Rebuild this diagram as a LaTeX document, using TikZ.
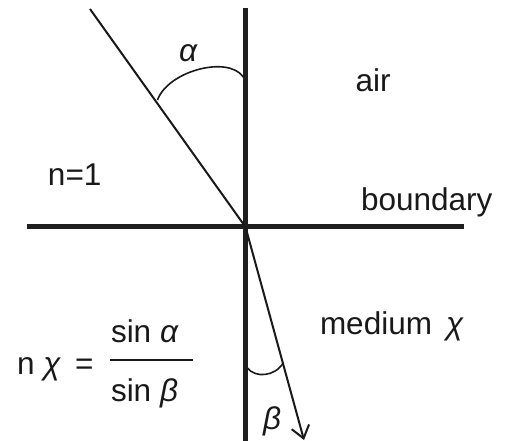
\documentclass[tikz,border=0pt]{standalone}
\usepackage{fontspec}
\setmainfont{Liberation Sans}
\usetikzlibrary{arrows.meta}
\tikzset{
  lbl/.style={inner sep=0pt, outer sep=0pt, font=\fontsize{31.5}{36}\selectfont, text=black!90},
  axisline/.style={line width=4.6pt, draw=black!88},
  rayline/.style={line width=2pt, draw=black!90},
  anglearc/.style={line width=1.6pt, draw=black!90},
}
\begin{document}
\begin{tikzpicture}[x=1pt,y=-1pt]
\useasboundingbox (0,0) rectangle (507,441);
% key points
\coordinate (O) at (245.5,227);
\coordinate (vtop) at (245.5,8);
\coordinate (vbot) at (245.5,441);
\coordinate (hleft) at (27,226.7);
\coordinate (hright) at (464,226.7);
\coordinate (src) at (90,9);
\coordinate (tip) at (304,440);
% axes
\draw[axisline] (vtop) -- (vbot);
\draw[axisline] (hleft) -- (hright);
% rays
\draw[rayline] (src) -- (O);
\draw[rayline, -{Straight Barb[length=12pt,width=18pt,line width=2pt]}] (O) -- (tip);
% angle arcs
\coordinate (a1) at (157.5,100);
\coordinate (a2) at (243.3,77);
\draw[anglearc] (a1) .. controls (168,71) and (228,55) .. (a2);
\coordinate (b1) at (247.5,368);
\coordinate (b2) at (283.5,362.5);
\draw[anglearc] (b1) .. controls (255,378) and (275,377) .. (b2);
% labels
\node[lbl, anchor=base] (alpha) at (188.5,62) {\textit{α}};
\node[lbl, anchor=center] (beta) at (272,421) {\textit{β}};
\node[lbl, anchor=base west] (air) at (355.5,92) {air};
\node[lbl, anchor=base west] (n1) at (48,186) {n=1};
\node[lbl, anchor=base west] (bnd) at (361,211) {boundary};
\node[lbl, anchor=base west] (med) at (320,335) {medium\hspace{14pt}\textit{χ}};
% formula
\node[lbl, anchor=base west] (nchi) at (17,374) {n \textit{χ}};
\node[lbl, anchor=base west] (eq) at (75,374) {=};
\node[lbl, anchor=base west] (num) at (111,343) {sin \textit{α}};
\node[lbl, anchor=base west] (den) at (111,402) {sin \textit{β}};
\coordinate (fl) at (110,360);
\coordinate (fr) at (193,360);
\draw[line width=2pt, draw=black!90] (fl) -- (fr);
\end{tikzpicture}
\end{document}
